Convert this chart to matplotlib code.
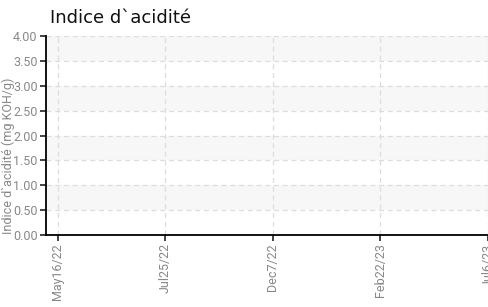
import matplotlib
matplotlib.use("Agg")
import matplotlib.pyplot as plt
import numpy as np

# categories (sample dates) -- no measurements shown
dates = ["May16/22", "Jul25/22", "Dec7/22", "Feb22/23", "Jul6/23"]
yticks = [0.0, 0.5, 1.0, 1.5, 2.0, 2.5, 3.0, 3.5, 4.0]
title = "Indice d`acidité"
ylabel = "Indice d`acidité (mg KOH/g)"

tick_font = ["Roboto", "DejaVu Sans"]

fig = plt.figure(figsize=(4.88, 3.07), dpi=100)
ax = fig.add_axes([0.0943, 0.2345, 0.9057, 0.6482])

x = np.arange(len(dates))
ax.set_xlim(-0.11, 3.995)
ax.set_ylim(0, 4)

# alternating bands
for lo in yticks[1::2]:
    ax.axhspan(lo, lo + 0.5, color="#f7f7f7", zorder=0, lw=0)

ax.set_xticks(x)
ax.set_xticklabels(dates, rotation=90, color="#888888", fontsize=9, family=tick_font)
ax.set_yticks(yticks)
ax.set_yticklabels(["%.2f" % v for v in yticks], color="#888888", fontsize=9, family=tick_font)

ax.grid(True, color="#dddddd", linestyle=(0, (4, 3)), linewidth=0.9)
ax.set_axisbelow(True)

for s in ["top", "right"]:
    ax.spines[s].set_visible(False)
ax.spines["left"].set_linewidth(1.3)
ax.spines["bottom"].set_linewidth(1.3)
ax.tick_params(length=4, width=1.2, pad=2, color="#222222")

fig.text(0.018, 1 - 156 / 307, ylabel, rotation=90, color="#888888", fontsize=9,
         family=tick_font, ha="center", va="center")
fig.text(0.102, 0.94, title, fontsize=13, color="#111111", family="DejaVu Sans", va="center")

fig.savefig("out.png", dpi=100)
